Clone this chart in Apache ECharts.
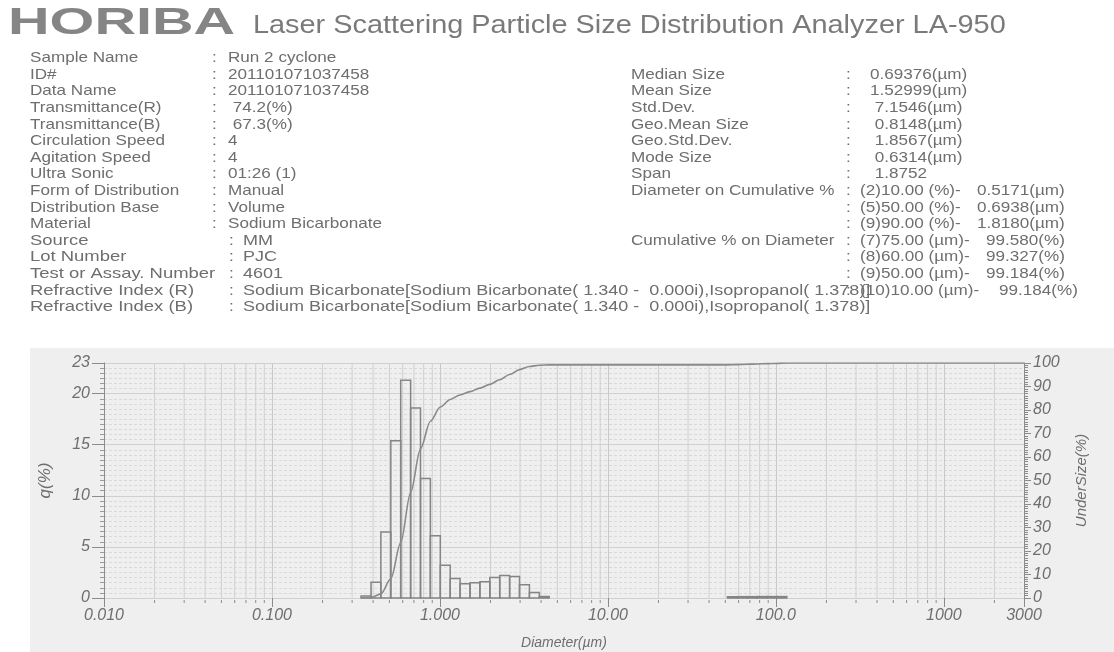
<!DOCTYPE html>
<html>
<head>
<meta charset="utf-8">
<title>LA-950 Particle Size Distribution</title>
<script src="https://cdn.jsdelivr.net/npm/echarts@6/dist/echarts.min.js"></script>
<style>
  html, body { margin: 0; padding: 0; background: #ffffff; }
  #chart { width: 1114px; height: 652px; }
</style>
</head>
<body>
<div id="chart"></div>
<script>
// ---- Report header ----
const brandName = 'HORIBA';
const reportTitle = 'Laser Scattering Particle Size Distribution Analyzer LA-950';
const refractiveText = 'Sodium Bicarbonate[Sodium Bicarbonate( 1.340 -  0.000i),Isopropanol( 1.378)]';

const infoLabels = ['Sample Name', 'ID#', 'Data Name', 'Transmittance(R)', 'Transmittance(B)',
  'Circulation Speed', 'Agitation Speed', 'Ultra Sonic', 'Form of Distribution', 'Distribution Base',
  'Material', 'Source', 'Lot Number', 'Test or Assay. Number', 'Refractive Index (R)', 'Refractive Index (B)'];
const infoValues = ['Run 2 cyclone', '201101071037458', '201101071037458', ' 74.2(%)', ' 67.3(%)',
  '4', '4', '01:26 (1)', 'Manual', 'Volume', 'Sodium Bicarbonate', 'MM', 'PJC', '4601',
  refractiveText, refractiveText];

const statLabels = ['Median Size', 'Mean Size', 'Std.Dev.', 'Geo.Mean Size', 'Geo.Std.Dev.', 'Mode Size', 'Span'];
const statValues = ['0.69376(\u00b5m)', '1.52999(\u00b5m)', ' 7.1546(\u00b5m)', ' 0.8148(\u00b5m)',
  ' 1.8567(\u00b5m)', ' 0.6314(\u00b5m)', ' 1.8752'];

const diaOnCumTitle = 'Diameter on Cumulative %';
const diaOnCumKeys = ['(2)10.00 (%)-', '(5)50.00 (%)-', '(9)90.00 (%)-'];
const diaOnCumVals = ['0.5171(\u00b5m)', '0.6938(\u00b5m)', '1.8180(\u00b5m)'];

const cumOnDiaTitle = 'Cumulative % on Diameter';
const cumOnDiaKeys = ['(7)75.00 (\u00b5m)-', '(8)60.00 (\u00b5m)-', '(9)50.00 (\u00b5m)-', '(10)10.00 (\u00b5m)-'];
const cumOnDiaVals = ['99.580(%)', '99.327(%)', '99.184(%)', '99.184(%)'];

// ---- Distribution data ----
// Size class edges (um) of the occupied channels
const sizeEdges = [0.339, 0.389, 0.445, 0.510, 0.584, 0.669, 0.766, 0.877, 1.005, 1.151,
  1.318, 1.510, 1.729, 1.981, 2.269, 2.599, 2.976, 3.409, 3.905, 4.472,
  5.122, 5.867, 6.720, 7.697, 8.816, 10.097, 11.565, 13.246, 15.172, 17.377,
  19.904, 22.797, 26.111, 29.907, 34.255, 39.234, 44.938, 51.471, 58.953, 67.523,
  77.339, 88.583, 101.46, 116.21];
// Frequency q(%) for each channel between consecutive edges
const qValues = [0.2, 1.55, 6.45, 15.4, 21.3, 18.6, 11.7, 6.1, 3.2, 1.9,
  1.4, 1.5, 1.6, 2.0, 2.2, 2.1, 1.3, 0.55, 0.15, 0,
  0, 0, 0, 0, 0, 0, 0, 0, 0, 0,
  0, 0, 0, 0, 0, 0, 0, 0.12, 0.13, 0.13,
  0.14, 0.14, 0.14];

// ---- Axes ----
const xMin = 0.01, xMax = 3000;
const xTickValues = [0.01, 0.1, 1, 10, 100, 1000, 3000];
const xTickLabels = ['0.010', '0.100', '1.000', '10.00', '100.0', '1000', '3000'];
const qMax = 23, qInterval = 5;
const underMax = 100, underInterval = 10;

const FONT = '"Liberation Sans", Arial, Helvetica, sans-serif';
const TEXT_COLOR = '#6e6e6e';

// Histogram rows [lower edge, upper edge, q]
const histData = qValues.map((q, i) => [sizeEdges[i], sizeEdges[i + 1], q]);

// Cumulative undersize curve, accumulated channel by channel
const underSize = [[sizeEdges[0], 0]];
let acc = 0;
qValues.forEach((q, i) => {
  acc += q;
  underSize.push([sizeEdges[i + 1], +acc.toFixed(3)]);
});
underSize.push([xMax, +acc.toFixed(3)]);

// Log grid: intermediate lines 2..9 within each decade
const logMinor = [];
for (let d = 0.01; d < xMax; d *= 10) {
  for (let m = 2; m <= 9; m++) {
    const v = +(m * d).toPrecision(6);
    if (v < xMax) logMinor.push([v, 0]);
  }
}

// ---- Header texts ----
function txt(x, y, text, font, sx, fill) {
  return {
    type: 'text', x: x, y: y, scaleX: sx, z: 10, silent: true,
    style: {
      text: text, font: font, fill: fill || TEXT_COLOR,
      align: 'left', textAlign: 'left', verticalAlign: 'middle', textVerticalAlign: 'middle'
    }
  };
}
const bodyFont = '15px ' + FONT;
const rowY = i => 58 + 16.6 * i;
// the lower block of the left column runs wider than the upper one
const leftCol = i => i >= 11
  ? { labelScale: 1.23, colonX: 229, valueX: 243, valueScale: 1.2 }
  : { labelScale: 1.14, colonX: 212, valueX: 228, valueScale: 1.14 };
const header = [];

header.push(txt(8, 24, brandName, 'bold 36px ' + FONT, 1.6, '#858585'));
header.push(txt(253, 26, reportTitle, '25px ' + FONT, 1.155, '#7a7a7a'));

infoLabels.forEach((lab, i) => {
  const c = leftCol(i);
  header.push(txt(30, rowY(i), lab, bodyFont, c.labelScale));
  header.push(txt(c.colonX, rowY(i), ':', bodyFont, 1.14));
  header.push(txt(c.valueX, rowY(i), infoValues[i], bodyFont, c.valueScale));
});
statLabels.forEach((lab, i) => {
  header.push(txt(631, rowY(i + 1), lab, bodyFont, 1.14));
  header.push(txt(846, rowY(i + 1), ':', bodyFont, 1.14));
  header.push(txt(870, rowY(i + 1), statValues[i], bodyFont, 1.14));
});
header.push(txt(631, rowY(8), diaOnCumTitle, bodyFont, 1.14));
diaOnCumKeys.forEach((k, i) => {
  header.push(txt(846, rowY(8 + i), ':', bodyFont, 1.14));
  header.push(txt(860, rowY(8 + i), k, bodyFont, 1.14));
  header.push(txt(977, rowY(8 + i), diaOnCumVals[i], bodyFont, 1.14));
});
header.push(txt(631, rowY(11), cumOnDiaTitle, bodyFont, 1.14));
cumOnDiaKeys.forEach((k, i) => {
  header.push(txt(846, rowY(11 + i), ':', bodyFont, 1.14));
  header.push(txt(860, rowY(11 + i), k, bodyFont, 1.14));
  header.push(txt(i === 3 ? 999 : 986, rowY(11 + i), cumOnDiaVals[i], bodyFont, 1.14));
});

// Shaded chart panel
header.push({
  type: 'rect', z: -10, silent: true,
  shape: { x: 30, y: 348, width: 1084, height: 304 },
  style: { fill: '#efefef' }
});

const chart = echarts.init(document.getElementById('chart'), null, { renderer: 'canvas' });

const axisLabelStyle = { fontStyle: 'italic', fontSize: 16, color: TEXT_COLOR, fontFamily: FONT };

chart.setOption({
  animation: false,
  backgroundColor: '#ffffff',
  graphic: { elements: header },
  grid: { left: 104, right: 90, top: 363, bottom: 54, containLabel: false },
  xAxis: {
    type: 'log', logBase: 10, min: xMin, max: xMax,
    name: 'Diameter(\u00b5m)', nameLocation: 'middle', nameGap: 38,
    nameTextStyle: { fontStyle: 'italic', fontSize: 14, color: TEXT_COLOR, fontFamily: FONT },
    axisLine: { show: false },
    axisTick: { show: true, length: 9, lineStyle: { color: '#8c8c8c' } },
    axisLabel: Object.assign({}, axisLabelStyle, {
      interval: 0, margin: 10,
      formatter: v => {
        const i = xTickValues.findIndex(t => Math.abs(Math.log10(t) - Math.log10(v)) < 1e-6);
        return i >= 0 ? xTickLabels[i] : '';
      }
    }),
    splitLine: { show: true, lineStyle: { color: '#c9c9c9', width: 1 } }
  },
  yAxis: [{
    type: 'value', min: 0, max: qMax, interval: qInterval, position: 'left',
    name: 'q(%)', nameLocation: 'middle', nameGap: 50, nameRotate: 90,
    nameTextStyle: { fontStyle: 'italic', fontSize: 17, color: TEXT_COLOR, fontFamily: FONT },
    axisLine: { show: true, lineStyle: { color: '#8c8c8c' } },
    axisTick: { show: true, length: 12, lineStyle: { color: '#8c8c8c' } },
    minorTick: { show: true, splitNumber: 10, length: 4, lineStyle: { color: '#9a9a9a' } },
    axisLabel: Object.assign({}, axisLabelStyle, { margin: 14 }),
    splitLine: { show: true, lineStyle: { color: '#d0d0d0' } },
    minorSplitLine: { show: true, lineStyle: { color: '#d9d9d9', type: [3, 2] } }
  }, {
    type: 'value', min: 0, max: underMax, interval: underInterval, position: 'right',
    name: 'UnderSize(%)', nameLocation: 'middle', nameGap: 50, nameRotate: 90,
    nameTextStyle: { fontStyle: 'italic', fontSize: 15, color: TEXT_COLOR, fontFamily: FONT },
    axisLine: { show: true, lineStyle: { color: '#8c8c8c' } },
    axisTick: { show: true, length: 7, lineStyle: { color: '#8c8c8c' } },
    minorTick: { show: true, splitNumber: 10, length: 4, lineStyle: { color: '#8c8c8c' } },
    axisLabel: Object.assign({}, axisLabelStyle, { margin: 9 }),
    splitLine: { show: false }
  }],
  series: [{
    // intermediate log grid lines with short ticks under the baseline
    type: 'custom', name: 'logGrid', silent: true, z: 1, clip: false,
    data: logMinor,
    encode: { x: 0, y: 1 },
    renderItem: (params, api) => {
      const v = api.value(0);
      const b = api.coord([v, 0]);
      const t = api.coord([v, qMax]);
      return {
        type: 'group',
        children: [{
          type: 'line', shape: { x1: b[0], y1: b[1], x2: t[0], y2: t[1] },
          style: { stroke: '#d0d0d0', lineWidth: 1 }
        }, {
          type: 'line', shape: { x1: b[0], y1: b[1] + 2, x2: b[0], y2: b[1] + 5 },
          style: { stroke: '#8c8c8c', lineWidth: 1 }
        }]
      };
    }
  }, {
    type: 'custom', name: 'q(%)', z: 3,
    data: histData,
    encode: { x: [0, 1], y: 2 },
    renderItem: (params, api) => {
      const lo = api.value(0), hi = api.value(1), q = api.value(2);
      if (!(q > 0)) return null;
      const p0 = api.coord([lo, 0]);
      const p1 = api.coord([hi, q]);
      return {
        type: 'rect',
        shape: { x: p0[0], y: p1[1], width: p1[0] - p0[0], height: p0[1] - p1[1] },
        style: { fill: 'none', stroke: '#858585', lineWidth: 1.5 }
      };
    }
  }, {
    type: 'line', name: 'UnderSize(%)', yAxisIndex: 1, z: 4,
    data: underSize,
    smooth: 0.3, smoothMonotone: 'x',
    showSymbol: false, symbol: 'none',
    lineStyle: { color: '#8a8a8a', width: 1.6 }
  }]
});
</script>
</body>
</html>
